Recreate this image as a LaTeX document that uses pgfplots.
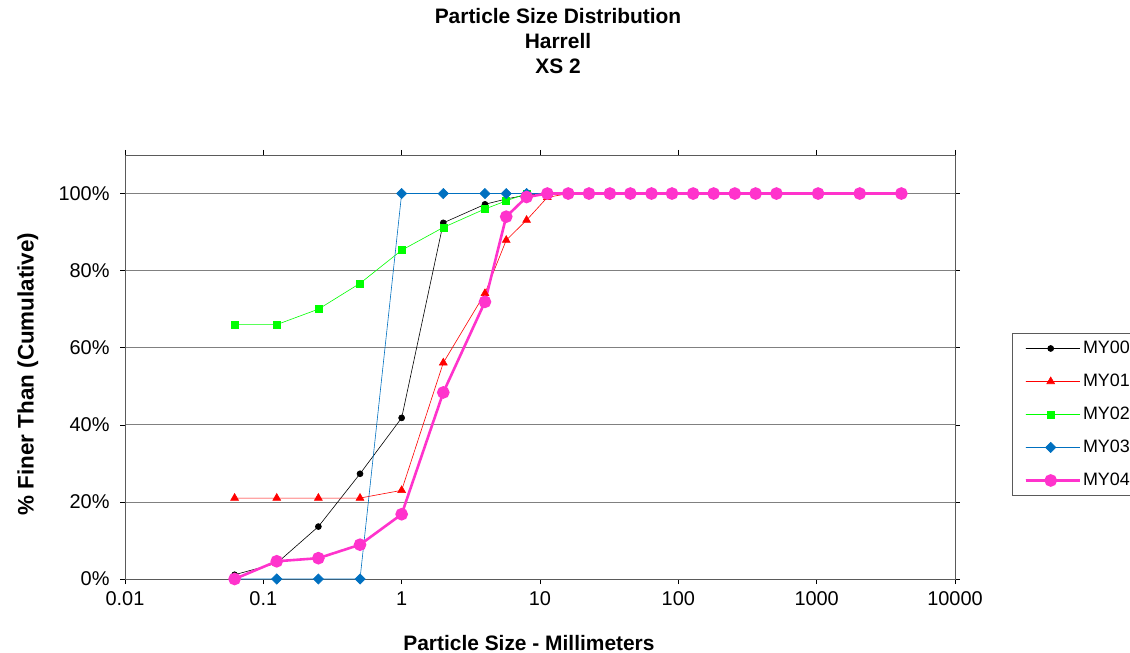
\documentclass[border=0pt]{standalone}
\usepackage{pgfplots}
\pgfplotsset{compat=1.18}
\usepackage{fontspec}
\setmainfont{Liberation Sans}
\definecolor{c0}{RGB}{0,0,0}
\definecolor{c1}{RGB}{255,0,0}
\definecolor{c2}{RGB}{0,255,0}
\definecolor{c3}{RGB}{0,112,192}
\definecolor{c4}{RGB}{255,51,204}
\definecolor{gridc}{RGB}{128,128,128}
\begin{document}
\begin{tikzpicture}
\useasboundingbox (-125bp,-74bp) rectangle (1005bp,579bp);
\begin{axis}[
  at={(0,0)}, anchor=south west,
  scale only axis, width=830bp, height=424bp,
  xmode=log, log basis x=10,
  xmin=0.01, xmax=10000, ymin=0, ymax=110,
  xtick={0.01,0.1,1,10,100,1000,10000},
  xticklabels={0.01,0.1,1,10,100,1000,10000},
  minor xtick={}, 
  ytick={0,20,40,60,80,100},
  yticklabel={\pgfmathprintnumber{\tick}\%},
  /pgf/number format/assume math mode=true,
  ymajorgrids, grid style={gridc, line width=0.8bp},
  tick align=outside, major tick length=5bp,
  tick style={black, line width=0.6bp},
  axis line style={gridc!70!black, line width=0.8bp},
  tick label style={font=\fontsize{20}{23}\selectfont},
  xticklabel style={yshift=-4bp},
  yticklabel style={xshift=-7bp},
  title={Particle Size Distribution\\Harrell\\XS 2},
  title style={at={(0.5217,1)}, anchor=north, yshift=144bp, align=center, font=\bfseries\fontsize{21}{25}\selectfont},
  xlabel={Particle Size - Millimeters},
  xlabel style={at={(axis description cs:0.4867,-0.151)}, anchor=center, font=\bfseries\fontsize{21}{24}\selectfont},
  ylabel={\% Finer Than (Cumulative)},
  ylabel style={at={(axis description cs:-0.117,0.4835)}, anchor=center, font=\bfseries\fontsize{22.5}{25}\selectfont},
  legend style={at={(axis description cs:1.0687,0.580)}, anchor=north west, draw=gridc!70!black, line width=0.8bp, font=\fontsize{18}{21}\selectfont, row sep=15bp, inner xsep=12bp, inner ysep=6bp, cells={anchor=west}},
  legend cell align=left,
  legend image code/.code={\path (0bp,0bp) -- (54bp,0bp); \draw[#1] (0bp,0bp) -- (25bp,0bp) -- (51bp,0bp); \path[#1, mark repeat=2, mark phase=2] plot coordinates {(0bp,0bp) (25bp,0bp) (51bp,0bp)};},
]
\addplot[c0, line width=0.6bp, mark=*, mark size=3bp, mark options={fill=c0, solid}] coordinates {
(0.062,1.1) (0.125,4.1) (0.25,13.6) (0.5,27.3) (1,41.8) (2,92.4) (4,97.2) (5.7,98.6) (8,99.6) (11.3,100) (16,100) (22.6,100) (32,100) (45,100) (64,100) (90,100) (128,100) (180,100) (256,100) (362,100) (512,100) (1024,100) (2048,100) (4096,100)};
\addlegendentry{MY00}
\addplot[c1, line width=0.6bp, mark=triangle*, mark size=4.5bp, mark options={fill=c1, solid}] coordinates {
(0.062,21) (0.125,21) (0.25,21) (0.5,21) (1,23) (2,56.1) (4,74.1) (5.7,87.9) (8,93.1) (11.3,99) (16,100) (22.6,100) (32,100) (45,100) (64,100) (90,100) (128,100) (180,100) (256,100) (362,100) (512,100) (1024,100) (2048,100) (4096,100)};
\addlegendentry{MY01}
\addplot[c2, line width=0.6bp, mark=square*, mark size=3.5bp, mark options={fill=c2, solid}] coordinates {
(0.062,66) (0.125,66) (0.25,70) (0.5,76.7) (1,85.3) (2,91.2) (4,96) (5.7,98.1) (8,100) (11.3,100) (16,100) (22.6,100) (32,100) (45,100) (64,100) (90,100) (128,100) (180,100) (256,100) (362,100) (512,100) (1024,100) (2048,100) (4096,100)};
\addlegendentry{MY02}
\addplot[c3, line width=0.6bp, mark=square*, mark size=3.6bp, mark options={fill=c3, solid, rotate=45}] coordinates {
(0.062,0) (0.125,0) (0.25,0) (0.5,0) (1,100) (2,100) (4,100) (5.7,100) (8,100) (11.3,100) (16,100) (22.6,100) (32,100) (45,100) (64,100) (90,100) (128,100) (180,100) (256,100) (362,100) (512,100) (1024,100) (2048,100) (4096,100)};
\addlegendentry{MY03}
\addplot[c4, line width=2.6bp, mark=*, mark size=5bp, mark options={fill=c4, solid}] coordinates {
(0.062,0) (0.125,4.6) (0.25,5.4) (0.5,8.9) (1,16.8) (2,48.4) (4,71.9) (5.7,94) (8,99.1) (11.3,100) (16,100) (22.6,100) (32,100) (45,100) (64,100) (90,100) (128,100) (180,100) (256,100) (362,100) (512,100) (1024,100) (2048,100) (4096,100)};
\addlegendentry{MY04}
\end{axis}
\end{tikzpicture}
\end{document}
